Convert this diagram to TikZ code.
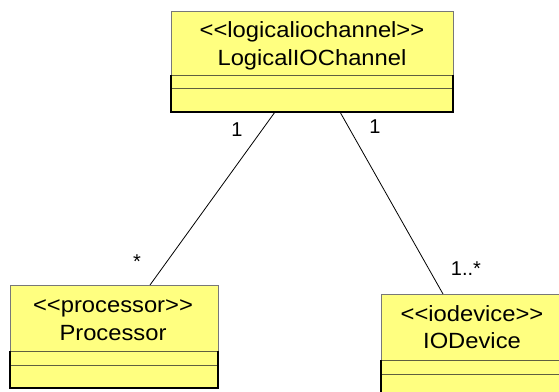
\documentclass[tikz,border=0pt]{standalone}
\usepackage{fontspec}
\setmainfont{Liberation Sans}[Ligatures=TeXOff]
\usetikzlibrary{calc}
\definecolor{classfill}{RGB}{255,255,128}
\definecolor{rulecol}{RGB}{96,96,64}
\definecolor{framecol}{RGB}{120,120,120}
\newcommand{\widetext}[1]{\scalebox{1.08}[1]{#1}}
\begin{document}
\begin{tikzpicture}[x=1pt,y=-1pt,
  classbox/.style={draw=framecol, fill=classfill, line width=1pt,
    inner sep=0pt, outer sep=0pt, anchor=north west},
  divider/.style={draw=rulecol, line width=0.8pt},
  shadowedge/.style={draw=black, line width=1.2pt},
  nametext/.style={font=\fontsize{22}{24}\selectfont, anchor=base, inner sep=0pt},
  multlabel/.style={font=\fontsize{20}{22}\selectfont, anchor=base, inner sep=0pt},
  assoc/.style={draw=black, line width=0.8pt}]
\clip (0,0) rectangle (559,391);
\fill[white] (0,0) rectangle (559,391);

% class boxes
\node[classbox, minimum width=282pt, minimum height=101pt] (chan) at (171,11) {};
\node[classbox, minimum width=208pt, minimum height=103pt] (proc) at (10,285) {};
\node[classbox, minimum width=184pt, minimum height=103pt] (iodev) at (381,294) {};

% compartment rules and darker lower outline
\foreach \b/\ra/\rb in {chan/64/77, proc/66/80, iodev/66/80}{
  \draw[divider] ($(\b.north west)+(0,\ra)$) -- ($(\b.north east)+(0,\ra)$);
  \draw[divider] ($(\b.north west)+(0,\rb)$) -- ($(\b.north east)+(0,\rb)$);
  \draw[shadowedge] ($(\b.north west)+(0,\ra)$) -- (\b.south west)
    -- (\b.south east) -- ($(\b.north east)+(0,\ra)$);
}

% class names
\node[nametext] (chanst) at (312,37) {\widetext{<<logicaliochannel>>}};
\node[nametext] (channame) at (312,65) {\widetext{LogicalIOChannel}};
\node[nametext] (procst) at (113,312) {\widetext{<<processor>>}};
\node[nametext] (procname) at (113,340) {\widetext{Processor}};
\node[nametext] (iodevst) at (472,321.5) {\widetext{<<iodevice>>}};
\node[nametext] (iodevname) at (472,348.5) {\widetext{IODevice}};

% associations
\draw[assoc] ($(chan.south west)+(104,0)$) -- ($(proc.north west)+(140,0)$);
\draw[assoc] ($(chan.south west)+(169,0)$) -- ($(iodev.north west)+(62,0)$);

% multiplicities
\node[multlabel] (m1) at (237,136.5) {1};
\node[multlabel] (m2) at (375,133) {1};
\node[multlabel] (m3) at (137,268) {*};
\node[multlabel] (m4) at (466,275) {1..*};
\end{tikzpicture}
\end{document}
